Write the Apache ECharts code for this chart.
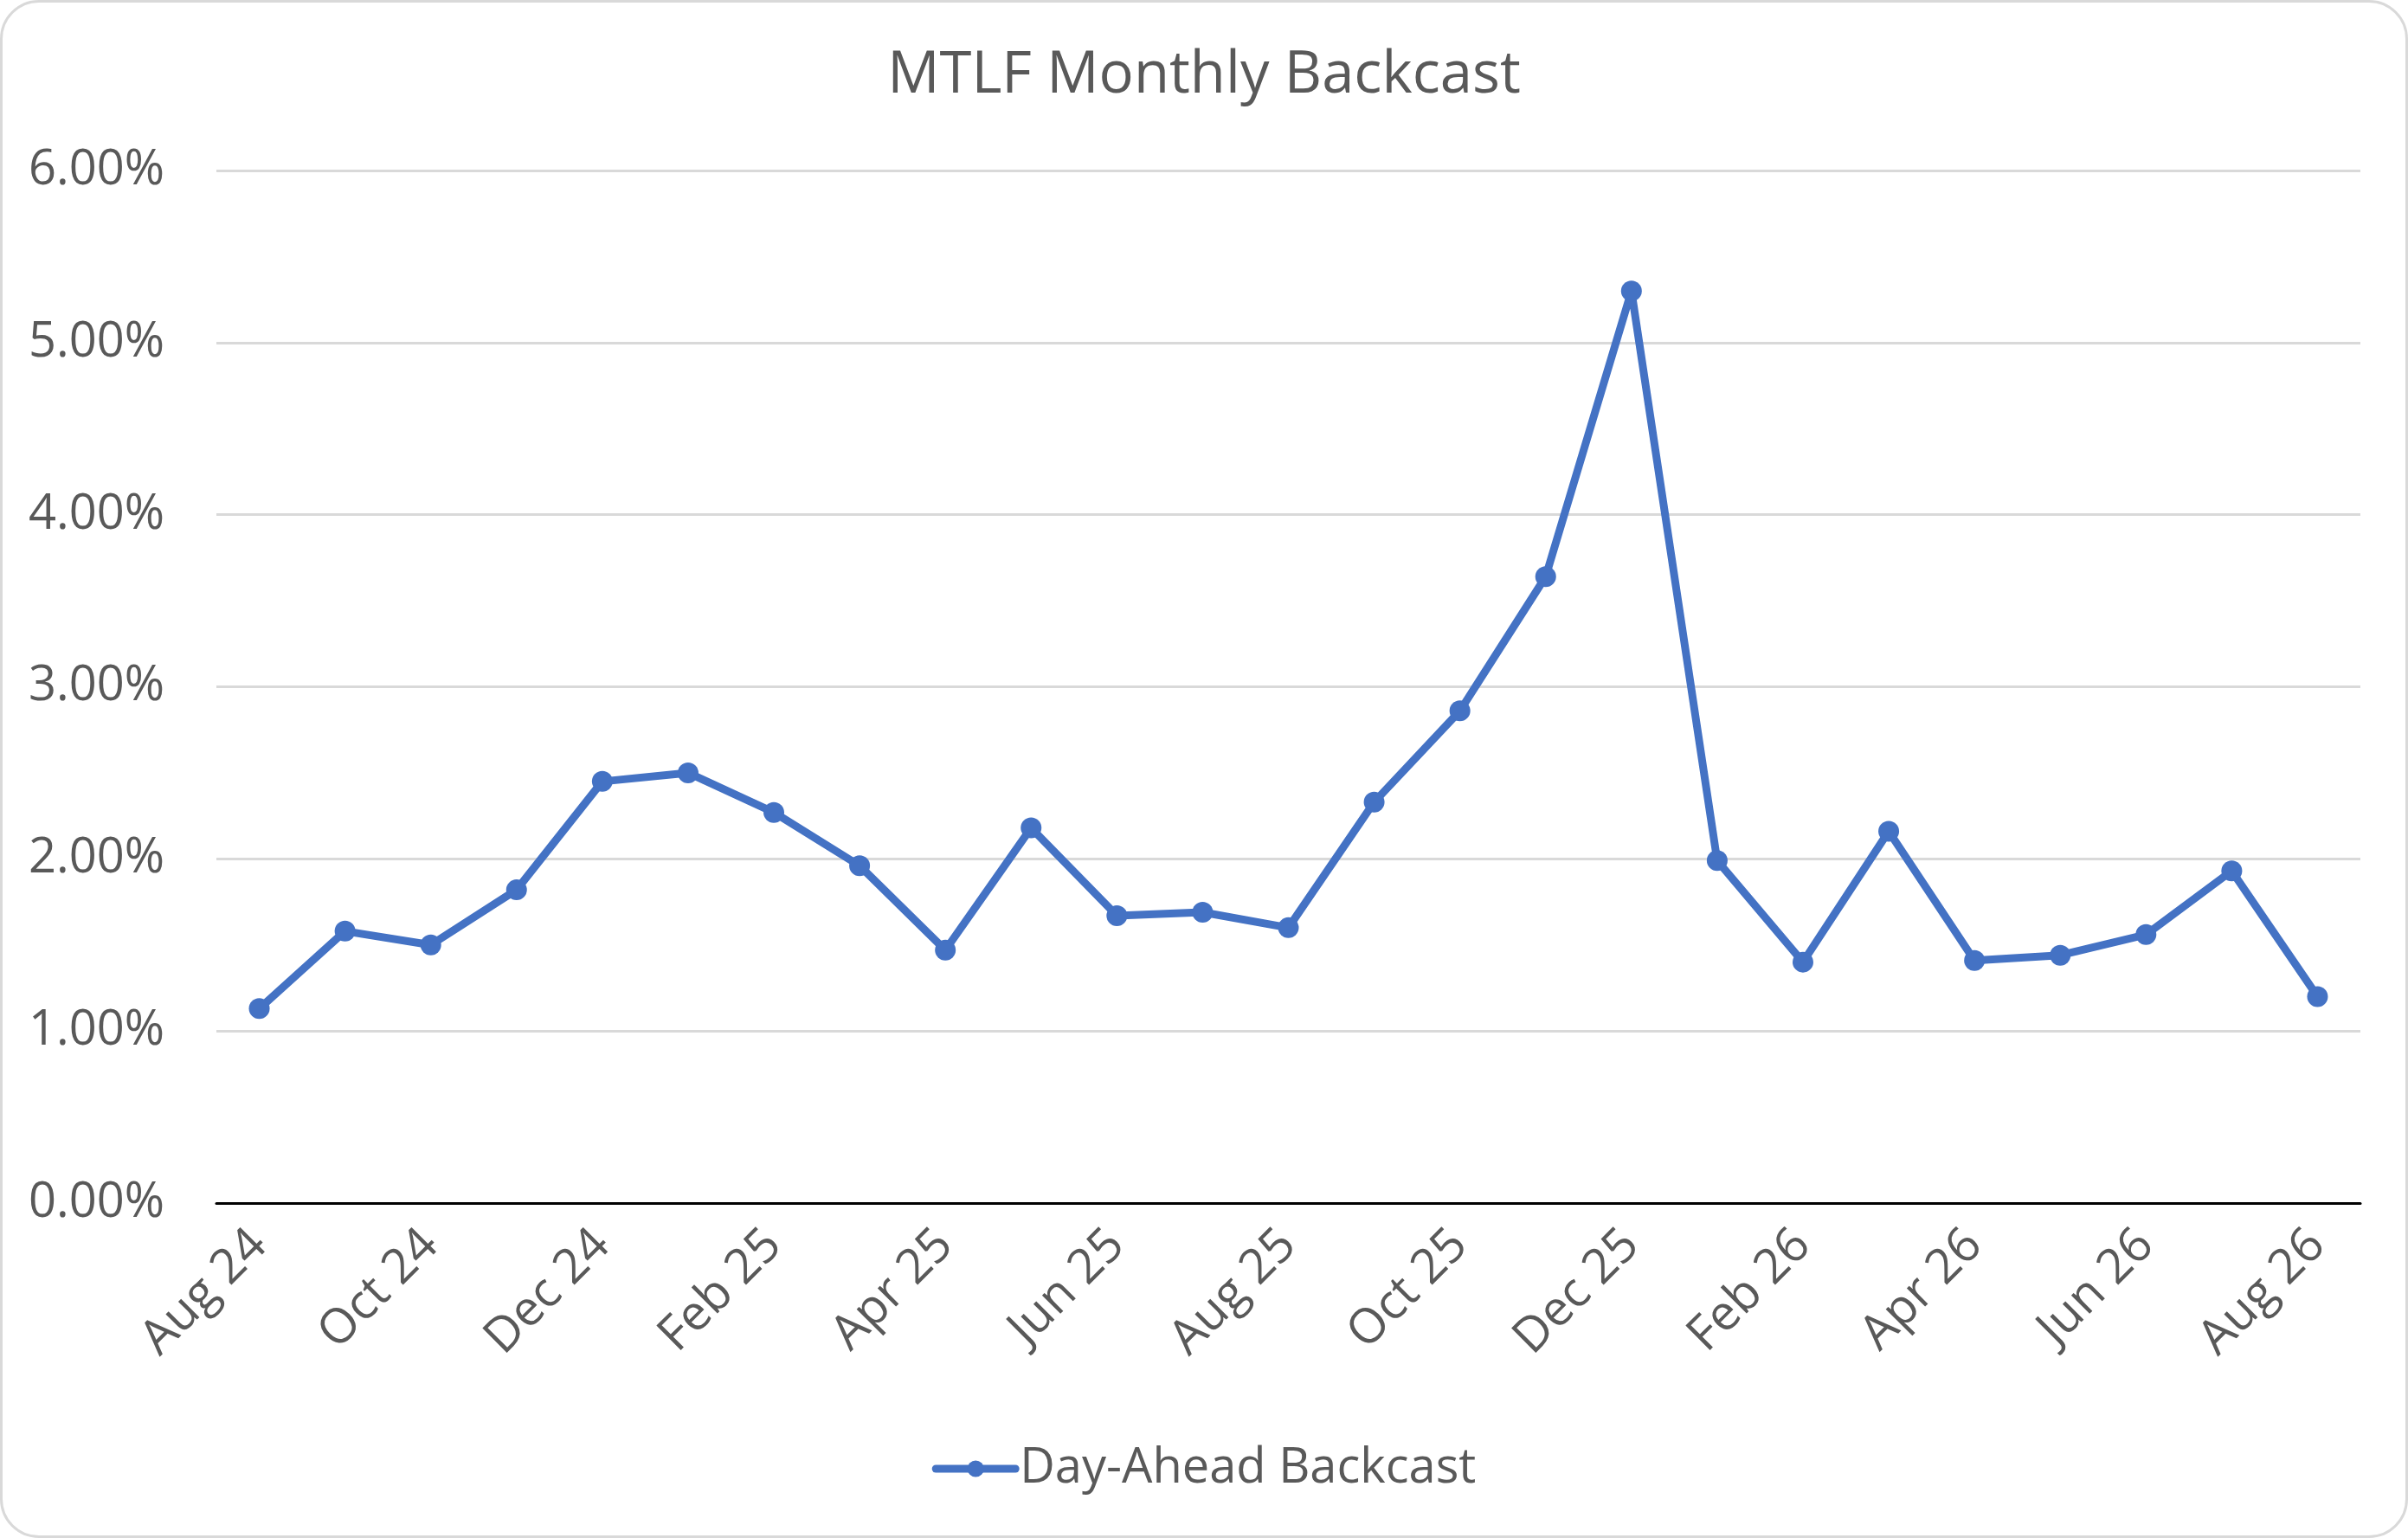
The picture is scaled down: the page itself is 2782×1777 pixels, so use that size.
<!DOCTYPE html>
<html>
<head>
<meta charset="utf-8">
<script src="https://cdn.jsdelivr.net/npm/echarts@6/dist/echarts.min.js"></script>
<style>
  html, body { margin: 0; padding: 0; background: #fff; }
  #frame {
    position: absolute; left: 0; top: 0;
    width: 2776px; height: 1771px;
    border: 3px solid #d9d9d9; border-radius: 45px;
    overflow: hidden; background: #fff;
  }
  #chart { width: 2776px; height: 1771px; }
</style>
</head>
<body>
<div id="frame"><div id="chart"></div></div>
<script>
  // month labels, Aug 2024 .. Aug 2026
  const months = ['Aug 24', 'Sep 24', 'Oct 24', 'Nov 24', 'Dec 24', 'Jan 25', 'Feb 25', 'Mar 25',
    'Apr 25', 'May 25', 'Jun 25', 'Jul 25', 'Aug 25', 'Sep 25', 'Oct 25', 'Nov 25', 'Dec 25',
    'Jan 26', 'Feb 26', 'Mar 26', 'Apr 26', 'May 26', 'Jun 26', 'Jul 26', 'Aug 26'];

  // Day-Ahead Backcast, in percent
  const dayAhead = [1.13, 1.58, 1.50, 1.82, 2.45, 2.50, 2.27, 1.96,
    1.47, 2.18, 1.67, 1.69, 1.60, 2.33, 2.86, 3.64, 5.30,
    1.99, 1.40, 2.16, 1.41, 1.44, 1.56, 1.93, 1.20];

  const textColor = '#595959';
  const fontFamily = '"Open Sans", "Noto Sans", sans-serif';

  const chart = echarts.init(document.getElementById('chart'));
  chart.setOption({
    animation: false,
    textStyle: { fontFamily: fontFamily },
    title: {
      text: 'MTLF Monthly Backcast',
      left: 'center',
      top: 46,
      textStyle: { color: textColor, fontSize: 67, fontWeight: 'normal', fontFamily: fontFamily }
    },
    legend: {
      data: ['Day-Ahead Backcast'],
      left: 'center',
      top: 1661,
      itemWidth: 92,
      itemHeight: 24,
      itemGap: 10,
      lineStyle: { width: 9 },
      textStyle: { color: textColor, fontSize: 56, fontFamily: fontFamily }
    },
    grid: {
      left: 247,
      right: 52,
      top: 194,
      bottom: 384,
      containLabel: false
    },
    xAxis: {
      type: 'category',
      data: months,
      boundaryGap: true,
      axisLine: { lineStyle: { color: '#000', width: 3 } },
      axisTick: { show: false },
      axisLabel: {
        interval: 1,
        rotate: 45,
        margin: 40,
        color: textColor,
        fontSize: 56,
        fontFamily: fontFamily
      }
    },
    yAxis: {
      type: 'value',
      min: 0,
      max: 6,
      interval: 1,
      axisLine: { show: false },
      axisTick: { show: false },
      splitLine: { lineStyle: { color: '#d9d9d9', width: 3 } },
      axisLabel: {
        margin: 60,
        color: textColor,
        fontSize: 56,
        fontFamily: fontFamily,
        formatter: function (v) { return v.toFixed(2) + '%'; }
      }
    },
    series: [{
      name: 'Day-Ahead Backcast',
      type: 'line',
      data: dayAhead,
      symbol: 'circle',
      symbolSize: 24,
      itemStyle: { color: '#4472c4' },
      lineStyle: { color: '#4472c4', width: 9, cap: 'round', join: 'round' }
    }]
  });
</script>
</body>
</html>
